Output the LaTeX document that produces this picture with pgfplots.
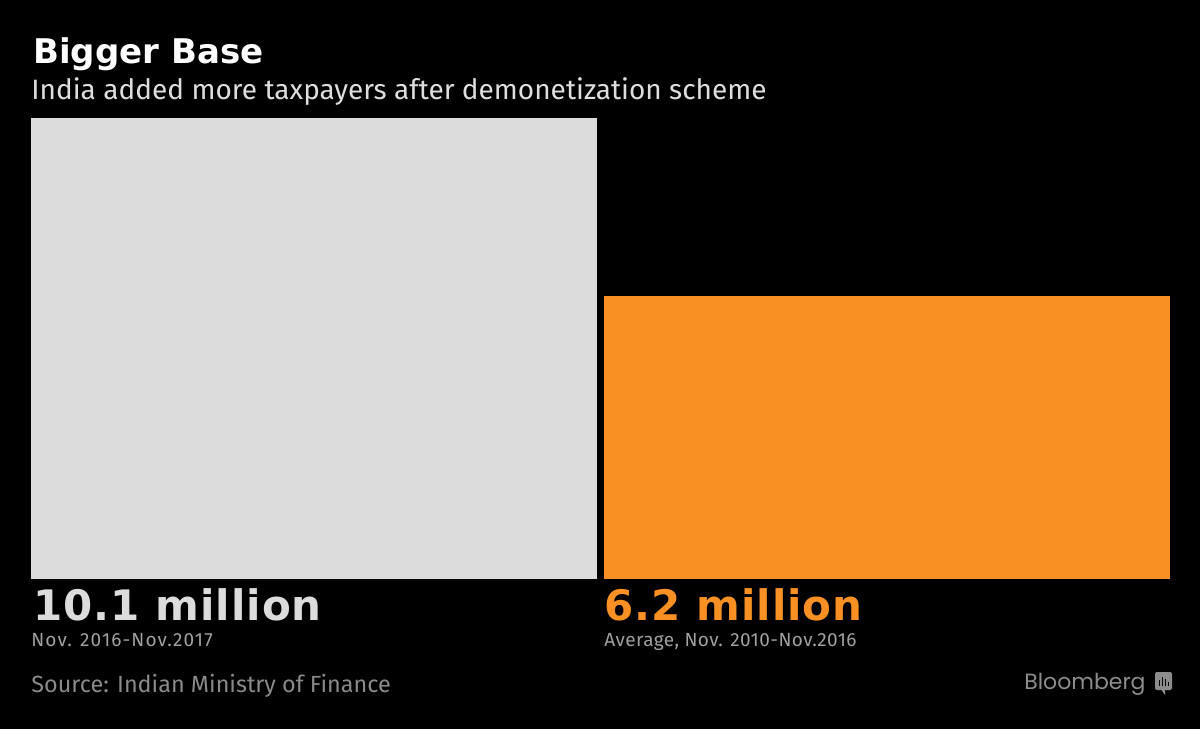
\documentclass[border=0pt]{standalone}
\usepackage{pgfplots}
\pgfplotsset{compat=1.18}
\usepackage{fontspec}
\setmainfont{Fira Sans}
\newfontfamily\dvfont{DejaVu Sans}
\newfontfamily\logofont{Poppins}
\definecolor{bargray}{HTML}{DCDCDC}
\definecolor{barorange}{HTML}{F89024}
\definecolor{subgray}{HTML}{DEDEDE}
\definecolor{capgray}{HTML}{A0A0A0}
\definecolor{srcgray}{HTML}{8A8A8A}
\definecolor{logogray}{HTML}{8C8C8C}
\begin{document}
\begin{tikzpicture}[x=1pt,y=1pt]
\fill[black] (0,0) rectangle (600,364.5);
\useasboundingbox (0,0) rectangle (600,364.5);
\begin{axis}[
  at={(15.5pt,75pt)}, anchor=south west,
  width=569pt, height=230.5pt, scale only axis,
  xmin=-0.4943, xmax=1.4934, ymin=0, ymax=10.1,
  hide axis, clip=false,
]
\addplot[ybar, bar width=0.9886, bar shift=0pt, fill=bargray, draw=none] coordinates {(0,10.1)};
\addplot[ybar, bar width=0.9886, bar shift=0pt, fill=barorange, draw=none] coordinates {(1,6.2)};
\end{axis}
% titles
\node[anchor=base west, inner sep=0, white, font=\dvfont\bfseries\fontsize{17}{20}\selectfont] at (16.5,332.5) {Bigger Base};
\node[anchor=base west, inner sep=0, subgray, font=\fontsize{14}{16}\selectfont] at (15.5,314.5) {India added more taxpayers after demonetization scheme};
% value labels
\node[anchor=base west, inner sep=0, bargray, font=\dvfont\bfseries\fontsize{21}{26}\selectfont\addfontfeature{LetterSpace=2.4}] at (16.5,54.5) {10.1 million};
\node[anchor=base west, inner sep=0, capgray, font=\fontsize{9.5}{11}\selectfont\addfontfeature{LetterSpace=6}] at (15.5,41.5) {Nov. 2016-Nov.2017};
\node[anchor=base west, inner sep=0, barorange, font=\dvfont\bfseries\fontsize{21}{26}\selectfont\addfontfeature{LetterSpace=2.4}] at (302,54.5) {6.2 million};
\node[anchor=base west, inner sep=0, capgray, font=\fontsize{9.5}{11}\selectfont\addfontfeature{LetterSpace=2.3}] at (302,41.5) {Average, Nov. 2010-Nov.2016};
% source
\node[anchor=base west, inner sep=0, srcgray, font=\fontsize{11.7}{13}\selectfont] at (15.5,18.5) {Source: Indian Ministry of Finance};
% logo
\node[anchor=base east, inner sep=0, logogray, font=\logofont\fontsize{11}{13}\selectfont] at (573,20) {Bloomberg};
\fill[logogray, rounded corners=1pt] (577.5,19.5) rectangle (586,28.5);
\fill[logogray] (580.5,19.8) -- (582.5,17) -- (582.5,19.8) -- cycle;
\fill[black] (579.3,21.5) rectangle (579.9,24.5);
\fill[black] (580.9,21.5) rectangle (581.5,26);
\fill[black] (582.5,21.5) rectangle (583.1,25);
\fill[black] (584.1,21.5) rectangle (584.7,23.5);
\end{tikzpicture}
\end{document}
